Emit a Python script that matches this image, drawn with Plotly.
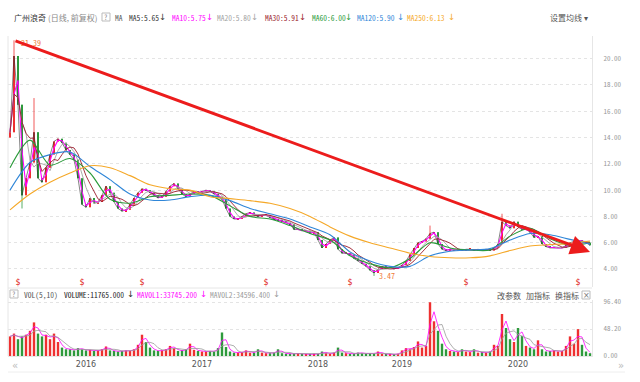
import pandas as pd
import plotly.graph_objects as go

# ---------------- data (one value per trading period) ----------------
close = [
    14.4, 20.2, 16.5, 9.6, 10.9, 12.1, 14.4, 10.9, 10.6, 11.7,
    12.7, 13.7, 13.9, 13.6, 13.05, 12.7, 12.3, 10.9, 8.9, 8.7,
    9.4, 9.0, 9.1, 9.6, 10.3, 9.8, 9.1, 8.6, 8.4, 8.5,
    8.9, 9.4, 9.8, 10.1, 10.0, 9.8, 9.6, 9.4, 9.5, 9.9,
    10.3, 10.5, 10.1, 9.7, 9.5, 9.7, 9.9, 9.8, 9.9, 10.0,
    9.9, 9.7, 9.5, 9.3, 8.6, 8.0, 7.8, 7.8, 8.0, 8.2,
    8.3, 8.1, 8.0, 8.1, 8.1, 7.9, 7.8, 7.7, 7.6, 7.5,
    7.4, 7.0, 7.0, 6.9, 6.9, 6.7, 6.8, 6.2, 5.6, 5.9,
    6.2, 6.4, 5.5, 5.2, 5.2, 5.1, 4.8, 4.6, 4.4, 4.2,
    3.9, 3.7, 4.0, 4.2, 4.1, 4.1, 4.0, 4.1, 4.3, 4.6,
    5.1, 5.6, 6.0, 6.1, 6.3, 6.7, 6.8, 5.9, 5.5, 5.4,
    5.5, 5.4, 5.5, 5.4, 5.5, 5.5, 5.4, 5.5, 5.4, 5.5,
    5.4, 5.6, 5.9, 7.6, 7.3, 7.1, 7.6, 7.2, 7.0, 7.0,
    6.8, 6.4, 6.5, 5.9, 5.7, 5.6, 5.6, 5.6, 5.6, 5.8,
    6.0, 6.1, 6.2, 6.1, 6.0, 5.8,
]
volume = [
    35, 40, 30, 35, 38, 45, 60, 40, 35, 38,
    30, 40, 25, 15, 12, 12, 10, 14, 12, 10,
    11, 9, 10, 12, 17, 10, 9, 8, 9, 10,
    9, 12, 20, 38, 25, 15, 10, 9, 10, 12,
    18, 14, 9, 10, 12, 22, 11, 9, 8, 8,
    9, 8, 14, 42, 16, 8, 6, 6, 7, 10,
    6, 6, 12, 6, 5, 5, 6, 12, 5, 4,
    4, 4, 5, 4, 3, 3, 4, 3, 8, 5,
    4, 6, 15, 6, 5, 4, 4, 6, 5, 4,
    5, 4, 8, 4, 3, 3, 3, 4, 10, 14,
    12, 16, 26, 15, 18, 96, 62, 45, 22, 12,
    9, 8, 7, 12, 8, 7, 12, 6, 7, 6,
    8, 20, 18, 75, 50, 30, 25, 50, 36, 18,
    15, 12, 28, 12, 8, 9, 10, 8, 9, 18,
    35, 22, 48, 20, 8, 5,
]
first_open = 14.0
extreme_highs = {1: 21.39, 6: 17.0, 105: 7.3, 123: 8.2}
extreme_lows = {3: 8.6, 91: 3.47}

# long moving averages, sampled every 5 periods
long_ma_step = 5
ma60 = [11.7, 13.8, 11.9, 12.4, 11.3, 9.3, 9.0, 9.5, 9.6, 9.7, 9.6, 8.8, 8.0, 7.8, 7.3,
        6.7, 6.2, 5.0, 4.4, 4.1, 4.8, 6.0, 5.6, 5.45, 5.45, 6.5, 7.1, 6.3, 5.8, 6.0]
ma120 = [10.0, 12.1, 12.7, 12.9, 11.8, 10.8, 9.7, 9.25, 9.25, 9.5, 9.6, 9.2, 8.6, 8.2, 7.8,
         7.2, 6.6, 5.3, 4.6, 4.2, 4.2, 5.0, 5.35, 5.45, 5.55, 6.2, 6.7, 6.6, 6.25, 5.9]
ma250 = [8.5, 9.7, 10.6, 11.3, 11.85, 11.7, 11.1, 10.4, 10.1, 10.0, 9.5, 9.35, 9.2, 9.0, 8.6,
         8.0, 7.2, 6.5, 6.0, 5.6, 5.2, 4.95, 4.85, 4.85, 5.0, 5.4, 5.75, 5.85, 5.95, 6.13]

ma_names = ["MA5", "MA10", "MA20", "MA30", "MA60", "MA120", "MA250"]
ma_last = [5.65, 5.75, 5.80, 5.91, 6.00, 5.90, 6.13]
ma_colors = ["#333333", "#ff00ff", "#a3a3a3", "#9b1b2b", "#2a9a3a", "#2f86d8", "#f5a828"]
short_ma_windows = [1, 2, 4, 6]

vol_names = ["VOLUME", "MAVOL1", "MAVOL2"]
vol_last = [11765.000, 33745.200, 34596.400]
vol_colors = ["#222222", "#ff00ff", "#9a9a9a"]

year_labels = ["2016", "2017", "2018", "2019", "2020"]
year_periods = [19, 48, 77, 98, 127]
dividend_periods = [2, 18, 33, 64, 85, 114, 142]
trend_end_value = 5.3

RED = "#ee3030"
GREEN = "#2e9a3c"

# ---------------- derived ----------------
n = len(close)
periods = list(range(n))
opens = [first_open] + close[:-1]
highs = [max(o, c) for o, c in zip(opens, close)]
lows = [min(o, c) for o, c in zip(opens, close)]
for k, v in extreme_highs.items():
    highs[k] = max(highs[k], v)
for k, v in extreme_lows.items():
    lows[k] = min(lows[k], v)
s = pd.Series(close)
short_mas = [s.rolling(w, min_periods=1).mean().tolist() for w in short_ma_windows]
long_x = list(range(0, n, long_ma_step))
vs = pd.Series(volume)
vol_ma1 = vs.rolling(2, min_periods=1).mean().tolist()
vol_ma2 = vs.rolling(4, min_periods=1).mean().tolist()
is_up = [c >= o for o, c in zip(opens, close)]
bar_colors = [RED if u else GREEN for u in is_up]
peak_idx = max(range(n), key=lambda i: highs[i])
low_idx = min(range(n), key=lambda i: lows[i])

# ---------------- figure ----------------
L, R, T, B = 8, 48, 36, 26
W, H = 640 - L - R, 382 - T - B


def px(x):
    return (x - L) / W


def py(y):
    return (382 - B - y) / H


fig = go.Figure()
# candle wicks
for up, col in [(True, RED), (False, GREEN)]:
    wx, wy = [], []
    for i in periods:
        if is_up[i] == up:
            wx += [i, i, None]
            wy += [lows[i], highs[i], None]
    fig.add_trace(go.Scatter(x=wx, y=wy, mode="lines", line=dict(color=col, width=0.8),
                             xaxis="x", yaxis="y", hoverinfo="skip"))
# candle bodies
fig.add_trace(go.Bar(x=periods, y=[max(abs(c - o), 0.04) for o, c in zip(opens, close)],
                     base=[min(o, c) for o, c in zip(opens, close)], width=0.45,
                     marker=dict(color=bar_colors, line=dict(width=0)),
                     xaxis="x", yaxis="y", hoverinfo="skip"))
for vals, col, w in zip(short_mas, ma_colors[:4], [0.6, 1.1, 0.9, 0.9]):
    fig.add_trace(go.Scatter(x=periods, y=vals, mode="lines",
                             line=dict(color=col, width=w), xaxis="x", yaxis="y", hoverinfo="skip"))
for vals, col in zip([ma60, ma120, ma250], ma_colors[4:]):
    fig.add_trace(go.Scatter(x=long_x, y=vals, mode="lines",
                             line=dict(color=col, width=1.1, shape="spline", smoothing=0.8),
                             xaxis="x", yaxis="y", hoverinfo="skip"))
fig.add_trace(go.Scatter(x=dividend_periods, y=[2.95] * len(dividend_periods), mode="text",
                         text=["$"] * len(dividend_periods),
                         textfont=dict(color="#e02020", size=8, family="DejaVu Sans"),
                         xaxis="x", yaxis="y", hoverinfo="skip"))
fig.add_trace(go.Bar(x=periods, y=volume, marker=dict(color=bar_colors, line=dict(width=0)),
                     width=0.6, xaxis="x", yaxis="y2", hoverinfo="skip"))
fig.add_trace(go.Scatter(x=periods, y=vol_ma1, mode="lines", line=dict(color="#ff00ff", width=0.8),
                         xaxis="x", yaxis="y2", hoverinfo="skip"))
fig.add_trace(go.Scatter(x=periods, y=vol_ma2, mode="lines", line=dict(color="#9a9a9a", width=0.8),
                         xaxis="x", yaxis="y2", hoverinfo="skip"))

MONO = "Noto Sans Mono CJK SC, DejaVu Sans Mono, monospace"
CJK = "Noto Sans CJK SC, sans-serif"
ann = []


def text(t, x, y, color, size=8, family=MONO, anchor="left"):
    ann.append(dict(text=t, x=px(x), y=py(y), xref="paper", yref="paper", showarrow=False,
                    xanchor=anchor, yanchor="middle", font=dict(color=color, size=size, family=family)))


# header row
text("广州浪奇", 12, 17, "#333333", 8, CJK)
text("(日线, 前复权)", 46, 17, "#888888", 8, CJK)
text("?", 106, 17, "#888888", 7, MONO, "center")
text("MA", 113, 17, "#555555", 7.5)
ma_x = [127, 170, 215, 263, 310, 355, 405]
arrow_x = [162, 209, 254, 302, 349, 400, 451]
for name, val, col, xx, ax_ in zip(ma_names, ma_last, ma_colors, ma_x, arrow_x):
    text(f"{name}:{val:.2f}", xx, 17, col, 7.5)
    text("↓", ax_, 17, col, 8.5, "DejaVu Sans", "center")
text("设置均线 ▾", 548, 17, "#555555", 8, CJK)

# volume header row
text("?", 14, 294, "#888888", 7, MONO, "center")
text("VOL(5,10)", 22, 294, "#555555", 7.5)
vx = [62, 135, 208]
vax = [130, 203, 276]
for name, val, col, xx, ax_ in zip(vol_names, vol_last, vol_colors, vx, vax):
    text(f"{name}:{val:.3f}", xx, 294, col, 7.5)
    text("↓", ax_, 294, col, 8.5, "DejaVu Sans", "center")
text("改参数", 495, 295, "#555555", 8, CJK)
text("加指标", 524, 295, "#555555", 8, CJK)
text("换指标", 553, 295, "#555555", 8, CJK)
text("×", 586, 295, "#777777", 8, "DejaVu Sans", "center")
text("«", 15, 365, "#bbbbbb", 10, "DejaVu Sans", "center")
text("»", 621, 365, "#bbbbbb", 10, "DejaVu Sans", "center")

# peak / trough labels
ann.append(dict(text="21.39", x=peak_idx, y=highs[peak_idx], xref="x", yref="y", showarrow=False,
                xanchor="left", yanchor="middle", xshift=5, yshift=-2,
                font=dict(color="#f07a3a", size=8, family=MONO)))
ann.append(dict(text="3.47", x=low_idx, y=lows[low_idx], xref="x", yref="y", showarrow=False,
                xanchor="left", yanchor="middle", xshift=3,
                font=dict(color="#f07a3a", size=8, family=MONO)))
# trend arrow from the peak
ann.append(dict(text="", x=n - 1, y=trend_end_value, xref="x", yref="y",
                ax=peak_idx, ay=highs[peak_idx], axref="x", ayref="y",
                showarrow=True, arrowhead=2, arrowsize=1.3, arrowwidth=3, arrowcolor="#ec1c1c",
                standoff=0, startstandoff=0))

shapes = [
    dict(type="rect", xref="paper", yref="paper", x0=px(102), x1=px(110), y0=py(21), y1=py(13),
         line=dict(color="#bbbbbb", width=1)),
    dict(type="rect", xref="paper", yref="paper", x0=px(10), x1=px(18), y0=py(298), y1=py(290),
         line=dict(color="#bbbbbb", width=1)),
    dict(type="rect", xref="paper", yref="paper", x0=px(582), x1=px(590), y0=py(299), y1=py(291),
         line=dict(color="#bbbbbb", width=1)),
    dict(type="line", xref="paper", yref="paper", x0=0, x1=1, y0=py(288), y1=py(288),
         line=dict(color="#e6e6e6", width=1)),
    dict(type="line", xref="paper", yref="paper", x0=0, x1=0, y0=0, y1=1,
         line=dict(color="#e6e6e6", width=1)),
    dict(type="line", xref="paper", yref="paper", x0=0, x1=px(625), y0=py(372), y1=py(372),
         line=dict(color="#eeeeee", width=1)),
]

fig.update_layout(
    width=640, height=382, margin=dict(l=L, r=R, t=T, b=B),
    paper_bgcolor="white", plot_bgcolor="white", showlegend=False,
    annotations=ann, shapes=shapes, barmode="overlay",
    xaxis=dict(domain=[0, 1], anchor="y2", range=[-0.5, n - 0.5],
               tickvals=year_periods, ticktext=year_labels, showgrid=False, zeroline=False,
               ticks="", showline=True, linecolor="#e6e6e6",
               tickfont=dict(size=8, color="#555555", family="DejaVu Sans")),
    yaxis=dict(domain=[py(287), 1], anchor="x", side="right", range=[2.63, 21.72],
               tick0=0, dtick=2, tickformat=".2f", showgrid=True, gridcolor="#e4e4e4",
               griddash="dot", zeroline=False, showline=True, linecolor="#e6e6e6", ticks="",
               ticklabelstandoff=9, tickfont=dict(size=7, color="#999999", family=MONO)),
    yaxis2=dict(domain=[0, py(300)], anchor="x", side="right", range=[0, 100],
                tickvals=[0, 48.2, 96.4], ticktext=["0.00", "48.20", "96.40"],
                showgrid=True, gridcolor="#e4e4e4", griddash="dot", zeroline=False,
                showline=True, linecolor="#e6e6e6", ticks="", ticklabelstandoff=9,
                tickfont=dict(size=7, color="#999999", family=MONO)),
)

fig.write_html("out.html", config={"displayModeBar": False},
               post_script="document.body.style.margin='0';")
